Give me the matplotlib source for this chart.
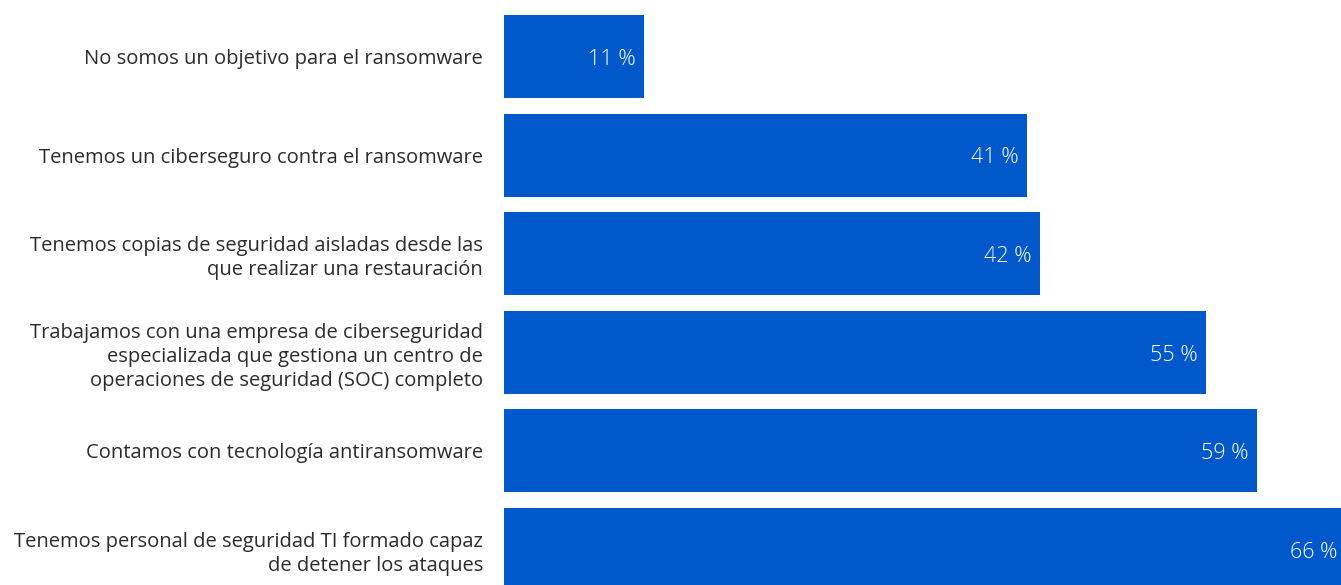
import matplotlib.pyplot as plt

labels = [
    "No somos un objetivo para el ransomware",
    "Tenemos un ciberseguro contra el ransomware",
    "Tenemos copias de seguridad aisladas desde las\nque realizar una restauración",
    "Trabajamos con una empresa de ciberseguridad\nespecializada que gestiona un centro de\noperaciones de seguridad (SOC) completo",
    "Contamos con tecnología antiransomware",
    "Tenemos personal de seguridad TI formado capaz\nde detener los ataques",
]
values = [11, 41, 42, 55, 59, 66]

BLUE = "#0058CB"

plt.rcParams["font.family"] = ["Open Sans", "DejaVu Sans"]

fig = plt.figure(figsize=(13.41, 5.85), dpi=100)
ax = fig.add_axes([504 / 1341, 0, 1 - 504 / 1341, 1])

pos = list(range(len(values)))
bars = ax.barh(pos, values, height=0.84, color=BLUE)

# value labels sit inside the right end of each bar
for b, v in zip(bars, values):
    ax.annotate(f"{v} %", xy=(b.get_width(), b.get_y() + b.get_height() / 2),
                xytext=(-6, -2), textcoords="offset points",
                ha="right", va="center", color="white",
                fontsize=15.5, fontweight="light", annotation_clip=False)

ax.set_yticks(pos)
ax.set_yticklabels(labels, fontsize=14.5, color="#2b2b2b", linespacing=1.27)
ax.tick_params(axis="y", length=0, pad=15)
ax.set_xticks([])
ax.set_xlim(0, 65.6)
ax.set_ylim(5.36, -0.573)
for s in ax.spines.values():
    s.set_visible(False)

fig.savefig("out.png", dpi=100)
